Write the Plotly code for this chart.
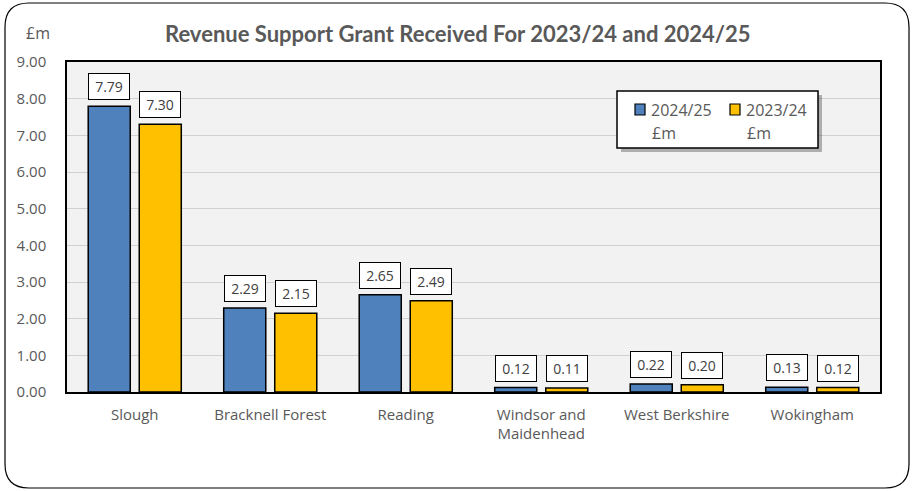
import plotly.graph_objects as go

# Revenue Support Grant by authority (£m)
authorities = ["Slough", "Bracknell Forest", "Reading",
               "Windsor and<br>Maidenhead", "West Berkshire", "Wokingham"]
grant_2024_25 = [7.79, 2.29, 2.65, 0.12, 0.22, 0.13]
grant_2023_24 = [7.30, 2.15, 2.49, 0.11, 0.20, 0.12]
series_names = ["2024/25", "2023/24"]
y_ticks = [0, 1, 2, 3, 4, 5, 6, 7, 8, 9]

BLUE = "#4F81BD"
GOLD = "#FFC000"
GREY_TXT = "#595959"
FONT = "Open Sans"
TITLE_FONT = "Lato"

W, H = 912, 491
ML, MR, MT, MB = 67, 32, 62, 99
PW, PH = W - ML - MR, H - MT - MB


def px(x):
    return (x - ML) / PW


def py(y):
    return (H - MB - y) / PH


BARGAP, GROUPGAP = 0.247, 0.176
slot = PW / len(authorities) * (1 - BARGAP) / 2

fig = go.Figure()
for name, vals, col in ((series_names[0], grant_2024_25, BLUE),
                        (series_names[1], grant_2023_24, GOLD)):
    fig.add_trace(go.Bar(name=name, x=authorities, y=vals, showlegend=False,
                         marker=dict(color=col, line=dict(color="black", width=1.5))))

# boxed value labels above each bar
annotations = []
for vals, shift in ((grant_2024_25, -slot / 2), (grant_2023_24, slot / 2)):
    for cat, v in zip(authorities, vals):
        annotations.append(dict(
            x=cat, y=v, xref="x", yref="y", xshift=shift, yshift=6,
            yanchor="bottom", text=f"{v:.2f}", showarrow=False,
            font=dict(family=FONT, size=14, color="#404040"),
            bgcolor="white", bordercolor="black", borderwidth=1,
            borderpad=2, width=36, height=21))

annotations.append(dict(
    x=px(458), y=py(33), xref="paper", yref="paper",
    xanchor="center", yanchor="middle",
    text="<b>Revenue Support Grant Received For 2023/24 and 2024/25</b>",
    showarrow=False, font=dict(family=TITLE_FONT, size=22, color=GREY_TXT)))
annotations.append(dict(
    x=px(38), y=py(33), xref="paper", yref="paper",
    xanchor="center", yanchor="middle",
    text="£m", showarrow=False, font=dict(family=FONT, size=16, color=GREY_TXT)))

# rounded outer frame
x0, x1 = px(5), px(909)
y0, y1 = py(488), py(3)
rx, ry = 24 / PW, 24 / PH
frame = (f"M {x0 + rx},{y1} L {x1 - rx},{y1} Q {x1},{y1} {x1},{y1 - ry} "
         f"L {x1},{y0 + ry} Q {x1},{y0} {x1 - rx},{y0} "
         f"L {x0 + rx},{y0} Q {x0},{y0} {x0},{y0 + ry} "
         f"L {x0},{y1 - ry} Q {x0},{y1} {x0 + rx},{y1} Z")

# legend box with drop shadow
LX0, LX1, LY0, LY1 = 617, 818, 91, 148
shapes = [
    dict(type="path", path=frame, xref="paper", yref="paper",
         line=dict(color="black", width=1.2), layer="below"),
    dict(type="rect", xref="paper", yref="paper",
         x0=px(LX0 + 4), x1=px(LX1 + 4), y0=py(LY1 + 4), y1=py(LY0 + 4),
         fillcolor="rgba(0,0,0,0.28)", line=dict(width=0), layer="above"),
    dict(type="rect", xref="paper", yref="paper",
         x0=px(LX0), x1=px(LX1), y0=py(LY1), y1=py(LY0),
         fillcolor="white", line=dict(color="black", width=1.5), layer="above"),
]
for i, (name, col) in enumerate(zip(series_names, (BLUE, GOLD))):
    sx = 635 + i * 95
    shapes.append(dict(type="rect", xref="paper", yref="paper",
                       x0=px(sx), x1=px(sx + 10), y0=py(115), y1=py(104),
                       fillcolor=col, line=dict(color="black", width=1.2),
                       layer="above"))
    annotations.append(dict(
        x=px(sx + 14), y=py(110), xref="paper", yref="paper", xanchor="left",
        yanchor="middle", text=name, showarrow=False,
        font=dict(family=FONT, size=16, color=GREY_TXT)))
    annotations.append(dict(
        x=px(sx + 15), y=py(133), xref="paper", yref="paper", xanchor="left",
        yanchor="middle", text="£m", showarrow=False,
        font=dict(family=FONT, size=16, color=GREY_TXT)))

fig.update_layout(
    width=W, height=H,
    margin=dict(l=ML, r=MR, t=MT, b=MB),
    paper_bgcolor="white", plot_bgcolor="#F2F2F2",
    barmode="group", bargap=BARGAP, bargroupgap=GROUPGAP,
    font=dict(family=FONT, color=GREY_TXT),
    annotations=annotations, shapes=shapes, showlegend=False,
    xaxis=dict(showline=True, linecolor="black", linewidth=1.5, mirror=True,
               tickfont=dict(family=FONT, size=15, color=GREY_TXT),
               ticks="", ticklabelstandoff=8),
    yaxis=dict(range=[0, 9], tickvals=y_ticks, tickformat=".2f",
               showgrid=True, gridcolor="#D0D0D0", gridwidth=1,
               showline=True, linecolor="black", linewidth=1.5, mirror=True,
               zeroline=False, ticks="", ticklabelstandoff=16,
               tickfont=dict(family=FONT, size=15, color=GREY_TXT)),
)

fig.write_html("out.html")
